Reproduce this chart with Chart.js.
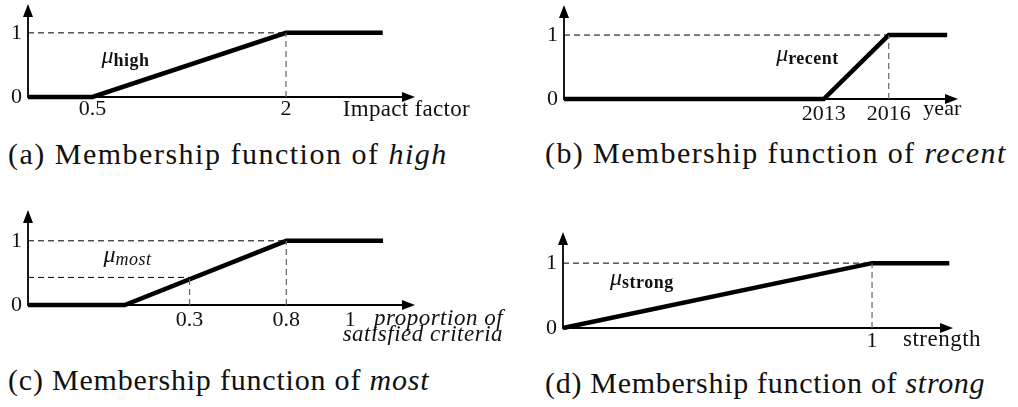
<!DOCTYPE html>
<html lang="en">
<head>
<meta charset="UTF-8">
<title>Membership functions</title>
<script src="https://cdn.jsdelivr.net/npm/chart.js@4.4.1/dist/chart.umd.min.js"></script>
<style>
    body { margin: 0; background: #fff; }
    #wrap { position: relative; width: 1018px; height: 407px; overflow: hidden;
            font-family: "Liberation Serif", serif; color: #111; }
    canvas { position: absolute; }
    .cap { position: absolute; font-size: 30px; line-height: 1; letter-spacing: 1.2px; white-space: nowrap; }
</style>
</head>
<body>
<div id="wrap">
    <canvas id="chartHigh" width="480" height="130" style="left:0;top:0"></canvas>
    <canvas id="chartRecent" width="482" height="130" style="left:536px;top:0"></canvas>
    <canvas id="chartMost" width="520" height="145" style="left:0;top:200px"></canvas>
    <canvas id="chartStrong" width="483" height="160" style="left:535px;top:200px"></canvas>

    <div class="cap" style="left:8px;top:139px;letter-spacing:1.5px">(a) Membership function of <i>high</i></div>
    <div class="cap" style="left:545px;top:138px;letter-spacing:1.4px">(b) Membership function of <i>recent</i></div>
    <div class="cap" style="left:8px;top:365px;letter-spacing:0.8px">(c) Membership function of <i>most</i></div>
    <div class="cap" style="left:545px;top:368px;letter-spacing:0.7px">(d) Membership function of <i>strong</i></div>
</div>

<script>
// membership degree axis (shared)
const muTicks = [0, 1];
const muTickLabels = ['0', '1'];

// (a) high, over impact factor
const highX = [0, 0.5, 2, 2.75];
const highMu = [0, 0, 1, 1];
const highTicks = [0.5, 2];
const highTickLabels = ['0.5', '2'];
const highGuideX = [2];
const highGuideMu = [1];

// (b) recent, over year
const recentYears = [2001, 2013, 2016, 2018.7];
const recentMu = [0, 0, 1, 1];
const recentTicks = [2013, 2016];
const recentTickLabels = ['2013', '2016'];
const recentGuideX = [2016];
const recentGuideMu = [1];

// (c) most: schematic axis, ticks sit where the figure puts them
const mostX = [0, 1, 2.67, 3.67];
const mostMu = [0, 0, 1, 1];
const mostTicks = [1.67, 2.67, 3.33];
const mostTickLabels = ['0.3', '0.8', '1'];
const mostGuideX = [2.67, 1.67];
const mostGuideMu = [1, 0.43];

// (d) strong, over strength
const strongX = [0, 1, 1.25];
const strongMu = [0, 1, 1];
const strongTicks = [1];
const strongTickLabels = ['1'];
const strongGuideX = [1];
const strongGuideMu = [1];

Chart.defaults.font.family = '"Liberation Serif", serif';
Chart.defaults.color = '#111';

// axes with arrow heads + free text (μ label, axis name)
const schematic = {
    id: 'schematic',
    beforeDatasetsDraw(chart) {
        const { ctx, scales: { x, y } } = chart;
        const x0 = x.getPixelForValue(x.min), y0 = y.getPixelForValue(0);
        const x1 = x.getPixelForValue(x.max), y1 = y.getPixelForValue(y.max);
        ctx.save();
        ctx.strokeStyle = '#000';
        ctx.fillStyle = '#000';
        ctx.lineWidth = 1.8;
        ctx.beginPath();
        ctx.moveTo(x0, y0); ctx.lineTo(x1 - 8, y0);
        ctx.moveTo(x0, y0 + 0.9); ctx.lineTo(x0, y1 + 8);
        ctx.stroke();
        ctx.beginPath();
        ctx.moveTo(x1, y0); ctx.lineTo(x1 - 13, y0 - 5); ctx.lineTo(x1 - 13, y0 + 5); ctx.closePath();
        ctx.moveTo(x0, y1); ctx.lineTo(x0 - 5, y1 + 13); ctx.lineTo(x0 + 5, y1 + 13); ctx.closePath();
        ctx.fill();
        ctx.restore();
    },
    afterDatasetsDraw(chart, args, o) {
        const { ctx, scales: { x, y } } = chart;
        const y0 = y.getPixelForValue(0);
        ctx.save();
        ctx.fillStyle = '#111';
        ctx.textBaseline = 'alphabetic';
        // μ with subscript
        const mx = x.getPixelForValue(o.mu.x), my = y.getPixelForValue(o.mu.y);
        ctx.font = 'italic 24px "Liberation Serif"';
        ctx.textAlign = 'left';
        ctx.fillText('μ', mx, my);
        const w = ctx.measureText('μ').width;
        ctx.font = (o.mu.bold ? 'bold ' : 'italic ') + '18px "Liberation Serif"';
        ctx.letterSpacing = '0.5px';
        ctx.fillText(o.mu.sub, mx + w, my + 3);
        // axis name
        ctx.font = (o.name.italic ? 'italic ' : '') + o.name.size + 'px "Liberation Serif"';
        ctx.letterSpacing = o.name.spacing;
        ctx.textAlign = o.name.align;
        const nx = x.getPixelForValue(o.name.x);
        o.name.lines.forEach((t, i) => ctx.fillText(t, nx, y0 + o.name.dy + i * 16));
        ctx.restore();
    }
};

function pts(xs, ys) {
    return xs.map((v, i) => ({ x: v, y: ys[i] }));
}

function buildChart(id, p) {
    const datasets = [];
    p.guideX.forEach((gx, i) => {
        const gy = p.guideMu[i];
        datasets.push({ data: [{ x: p.xMin, y: gy }, { x: gx, y: gy }], showLine: true,
            borderColor: '#000', borderWidth: 1, borderDash: [6, 4], pointRadius: 0 });
        datasets.push({ data: [{ x: gx, y: 0 }, { x: gx, y: gy }], showLine: true,
            borderColor: '#666', borderWidth: 1.2, borderDash: [6, 4], pointRadius: 0 });
    });
    datasets.push({ data: pts(p.xs, p.mu), showLine: true, borderColor: '#000', borderWidth: 4.5,
        pointRadius: 0, tension: 0, borderJoinStyle: 'miter', clip: false });

    const tickFont = { size: 22, lineHeight: 1 };
    return new Chart(document.getElementById(id), {
        type: 'scatter',
        data: { datasets },
        options: {
            responsive: false,
            animation: false,
            events: [],
            layout: { padding: p.pad },
            plugins: { legend: { display: false }, tooltip: { enabled: false }, schematic: p.notes },
            scales: {
                x: {
                    type: 'linear', min: p.xMin, max: p.xMax,
                    grid: { display: false, drawTicks: false }, border: { display: false },
                    afterBuildTicks: s => { s.ticks = p.ticks.map(v => ({ value: v })); },
                    afterFit: s => { s.height = p.xH; s.paddingLeft = 0; s.paddingRight = 0; },
                    ticks: { autoSkip: false, maxRotation: 0, padding: p.tickPad, font: tickFont,
                        callback: (v, i) => p.labels[i] }
                },
                y: {
                    min: 0, max: p.yMax,
                    grid: { display: false, drawTicks: false }, border: { display: false },
                    afterBuildTicks: s => { s.ticks = muTicks.map(v => ({ value: v })); },
                    afterFit: s => { s.width = 28; s.paddingTop = 0; s.paddingBottom = 0; },
                    ticks: { padding: 6, font: tickFont, callback: (v, i) => muTickLabels[i] }
                }
            }
        },
        plugins: [schematic]
    });
}

buildChart('chartHigh', {
    xs: highX, mu: highMu, ticks: highTicks, labels: highTickLabels,
    guideX: highGuideX, guideMu: highGuideMu,
    xMin: 0, xMax: 3, yMax: 1.45, xH: 33, tickPad: 1,
    pad: { top: 4, right: 65, left: 0, bottom: 0 },
    notes: { mu: { x: 0.57, y: 0.53, sub: 'high', bold: true },
             name: { x: 2.44, dy: 19, size: 23, spacing: '0.3px', lines: ['Impact factor'], align: 'left' } }
});

buildChart('chartRecent', {
    xs: recentYears, mu: recentMu, ticks: recentTicks, labels: recentTickLabels,
    guideX: recentGuideX, guideMu: recentGuideMu,
    xMin: 2001, xMax: 2019.2, yMax: 1.47, xH: 31, tickPad: 4,
    pad: { top: 5, right: 60, left: 0, bottom: 0 },
    notes: { mu: { x: 2010.8, y: 0.59, sub: 'recent', bold: true },
             name: { x: 2017.6, dy: 16, size: 22, spacing: '0px', lines: ['year'], align: 'left' } }
});

buildChart('chartMost', {
    xs: mostX, mu: mostMu, ticks: mostTicks, labels: mostTickLabels,
    guideX: mostGuideX, guideMu: mostGuideMu,
    xMin: 0, xMax: 4, yMax: 1.48, xH: 40, tickPad: 4,
    pad: { top: 10, right: 105, left: 0, bottom: 0 },
    notes: { mu: { x: 0.78, y: 0.67, sub: 'most', bold: false },
             name: { x: 4.91, dy: 20, size: 23, spacing: '0.5px',
                     lines: ['proportion of', 'satisfied criteria'], align: 'right', italic: true } }
});

buildChart('chartStrong', {
    xs: strongX, mu: strongMu, ticks: strongTicks, labels: strongTickLabels,
    guideX: strongGuideX, guideMu: strongGuideMu,
    xMin: 0, xMax: 1.262, yMax: 1.48, xH: 32, tickPad: 2,
    pad: { top: 32, right: 65, left: 0, bottom: 0 },
    notes: { mu: { x: 0.152, y: 0.66, sub: 'strong', bold: true },
             name: { x: 1.10, dy: 18, size: 23, spacing: '0.5px', lines: ['strength'], align: 'left' } }
});
</script>
</body>
</html>
